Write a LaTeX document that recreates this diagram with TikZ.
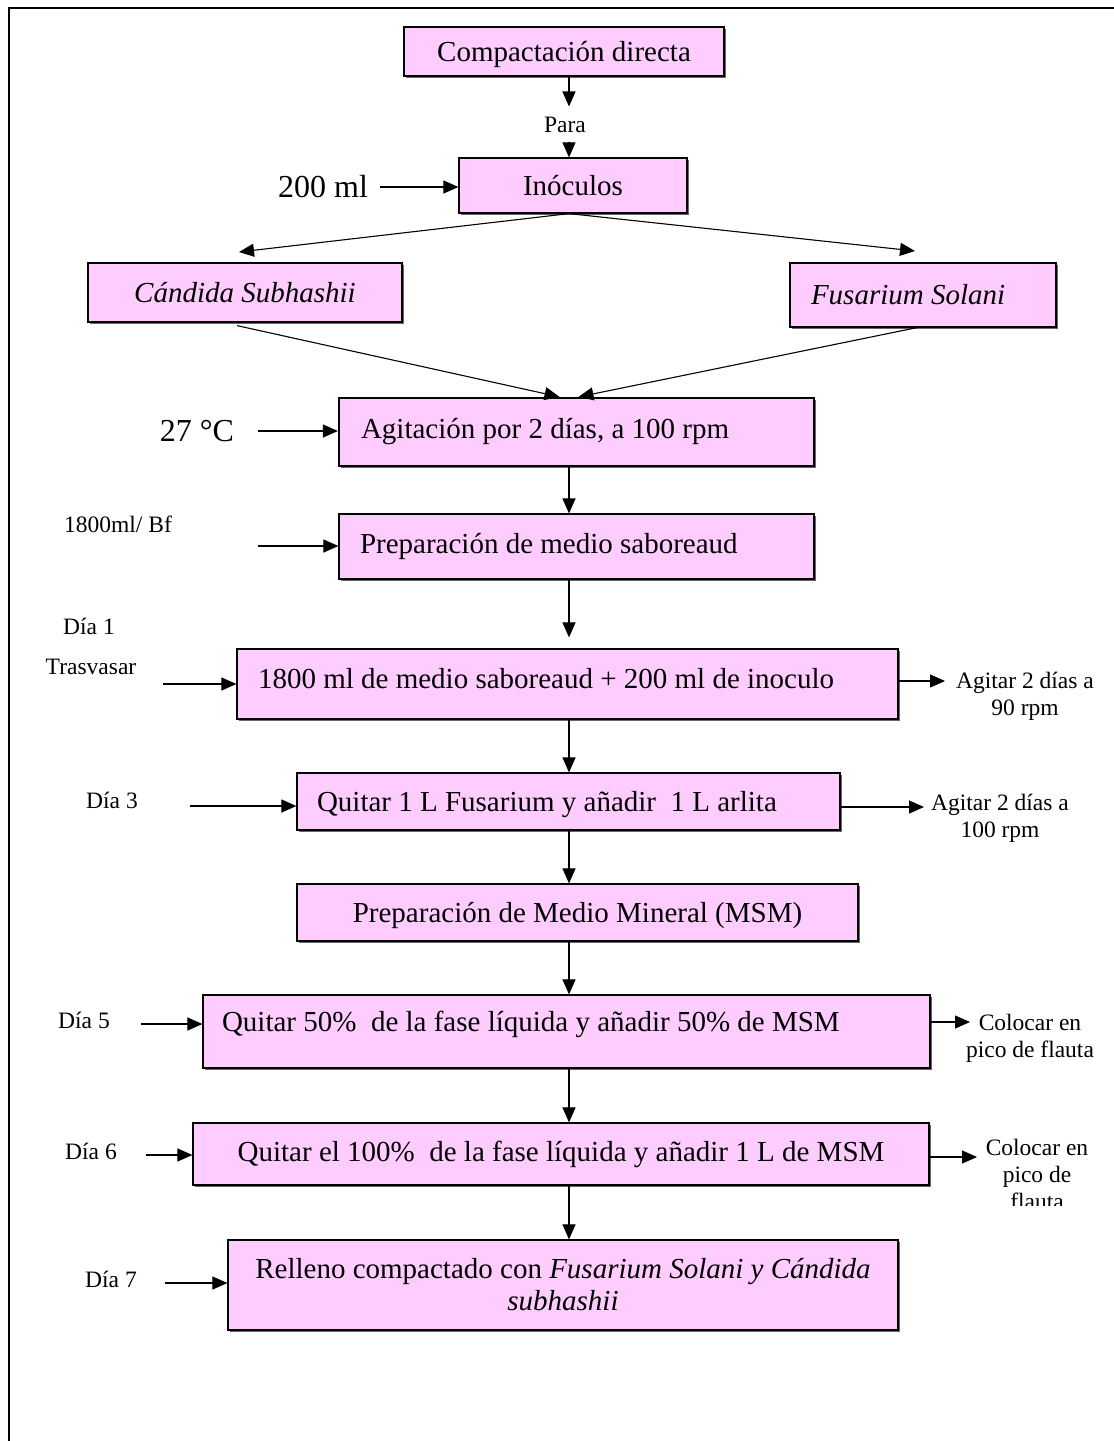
\documentclass[tikz,border=0pt]{standalone}
\usepackage{fontspec}
\setmainfont{Liberation Serif}
\usetikzlibrary{arrows.meta,shadows,calc}

\definecolor{boxpink}{RGB}{255,204,255}
\newcommand\boxtxt{\fontsize{29}{32}\selectfont}
\newcommand\smalltxt{\fontsize{23.5}{26.5}\selectfont}
\newcommand\bigtxt{\fontsize{32}{36}\selectfont}

\begin{document}
\begin{tikzpicture}[x=1pt,y=-1pt,
  pbox/.style={draw=black, line width=1.2pt, fill=boxpink, rectangle,
    inner sep=0pt, font=\boxtxt,
    drop shadow={shadow xshift=2.2pt, shadow yshift=-2.2pt, fill=black!60, opacity=1}},
  lbl/.style={inner sep=0pt, font=\smalltxt, align=center},
  biglbl/.style={inner sep=0pt, font=\bigtxt},
  arr/.style={line width=1.1pt, -{Triangle[length=15pt,width=13pt]}}
]
\useasboundingbox (0,0) rectangle (1114,1441);

% page frame
\draw[line width=2pt] (8.5,1441) -- (8.5,8) -- (1114,8);

% main column
\coordinate (col) at (569,0);

% process boxes
\node[pbox, minimum width=320, minimum height=49, text depth=0pt] (B1) at (564,51.5) {Compactación directa};
\node[lbl] (para) at (565,124.5) {Para};
\node[pbox, minimum width=228, minimum height=55] (B2) at (573,185.5) {Inóculos};
\node[pbox, minimum width=314, minimum height=59] (B3) at (245,292.5) {\textit{Cándida Subhashii}};
\node[pbox, minimum height=64, text width=224, inner xsep=21, align=flush left] (B4) at (923,295) {\textit{Fusarium Solani}};
\node[pbox, line width=2.2pt, minimum height=68, text width=431, inner xsep=22, align=flush left] (B5) at (576.5,432) {Agitación por 2 días, a 100 rpm};
\node[pbox, minimum height=65, text width=433, inner xsep=21, align=flush left] (B6) at (576.5,546.5) {Preparación de medio saboreaud};
\node[pbox, minimum height=70, text width=619, inner xsep=21, align=flush left, text depth=12pt] (B7) at (567.5,684) {1800 ml de medio saboreaud + 200 ml de inoculo};
\node[pbox, minimum height=57, text width=503, inner xsep=20, align=flush left, text depth=0pt] (B8) at (568.5,801.5) {Quitar 1 L Fusarium y añadir~ 1 L arlita};
\node[pbox, minimum width=561, minimum height=57, text depth=0pt] (B9) at (577.5,912.5) {Preparación de Medio Mineral (MSM)};
\node[pbox, minimum height=73, text width=689, inner xsep=19, align=flush left, text depth=20pt] (B10) at (566.5,1031.5) {Quitar 50\%~ de la fase líquida y añadir 50\% de MSM};
\node[pbox, minimum width=736, minimum height=62] (B11) at (561,1154) {Quitar el 100\%~ de la fase líquida y añadir 1 L de MSM};
\node[pbox, minimum width=670, minimum height=90, align=center] (B12) at (563,1285) {Relleno compactado con \textit{Fusarium Solani y Cándida}\\\textit{subhashii}};

% side labels
\node[biglbl] (v200) at (323,187) {200 ml};
\node[biglbl] (t27) at (197,431) {27 °C};
\node[lbl] (bf) at (118,524) {1800ml/ Bf};
\node[lbl] (d1) at (89,626) {Día 1};
\node[lbl] (tras) at (91,667) {Trasvasar};
\node[lbl] (d3) at (112,800) {Día 3};
\node[lbl] (d5) at (84,1020) {Día 5};
\node[lbl] (d6) at (91,1151) {Día 6};
\node[lbl] (d7) at (111,1279) {Día 7};

\node[lbl, anchor=north] (o7) at (1025,672) {Agitar 2 días a\\90 rpm};
\node[lbl, anchor=north] (o8) at (1000,794) {Agitar 2 días a\\100 rpm};
\node[lbl, anchor=north] (o10) at (1030,1014) {Colocar en\\pico de flauta};
\begin{scope}
  \clip (940,1120) rectangle (1114,1205);
  \node[lbl, anchor=north, font=\fontsize{23.5}{27}\selectfont] (o11) at (1037,1139) {Colocar en\\pico de\\flauta};
\end{scope}

% free ends of side arrows
\coordinate (t3) at (239,252);
\coordinate (t4) at (915,251);
\coordinate (s6) at (258,546);
\coordinate (s7) at (163,684);
\coordinate (s8) at (190,806);
\coordinate (s10) at (141,1024);
\coordinate (s11) at (146,1155);
\coordinate (s12) at (165,1283);
\coordinate (r7) at (945,681);
\coordinate (r8) at (924,807);
\coordinate (r10) at (970,1022);
\coordinate (r11) at (977,1157);

% vertical flow
\draw[arr, shorten >=10pt] (col |- B1.south) -- (col |- para.north);
\draw[arr, shorten <=9pt] (col |- para.south) -- (col |- B2.north);
\draw[arr] (col |- B2.south) -- (t3);
\draw[arr] (col |- B2.south) -- (t4);
\draw[arr] ([xshift=-8pt,yshift=-3pt]B3.south) -- ([xshift=-17pt]B5.north);
\draw[arr] ([xshift=-6pt]B4.south) -- ([xshift=2pt]B5.north);
\draw[arr] (col |- B5.south) -- (col |- B6.north);
\draw[arr, shorten >=11pt] (col |- B6.south) -- (col |- B7.north);
\draw[arr] (col |- B7.south) -- (col |- B8.north);
\draw[arr] (col |- B8.south) -- (col |- B9.north);
\draw[arr] (col |- B9.south) -- (col |- B10.north);
\draw[arr] (col |- B10.south) -- (col |- B11.north);
\draw[arr] (col |- B11.south) -- (col |- B12.north);

% inputs from the left
\draw[arr, shorten <=12pt] (v200.east) -- (v200.east -| B2.west);
\draw[arr, shorten <=24pt] (t27.east) -- (t27.east -| B5.west);
\draw[arr] (s6) -- (s6 -| B6.west);
\draw[arr] (s7) -- (s7 -| B7.west);
\draw[arr] (s8) -- (s8 -| B8.west);
\draw[arr] (s10) -- (s10 -| B10.west);
\draw[arr] (s11) -- (s11 -| B11.west);
\draw[arr] (s12) -- (s12 -| B12.west);

% outputs to the right
\draw[arr] (B7.east |- r7) -- (r7);
\draw[arr] (B8.east |- r8) -- (r8);
\draw[arr] (B10.east |- r10) -- (r10);
\draw[arr] (B11.east |- r11) -- (r11);
\end{tikzpicture}
\end{document}
